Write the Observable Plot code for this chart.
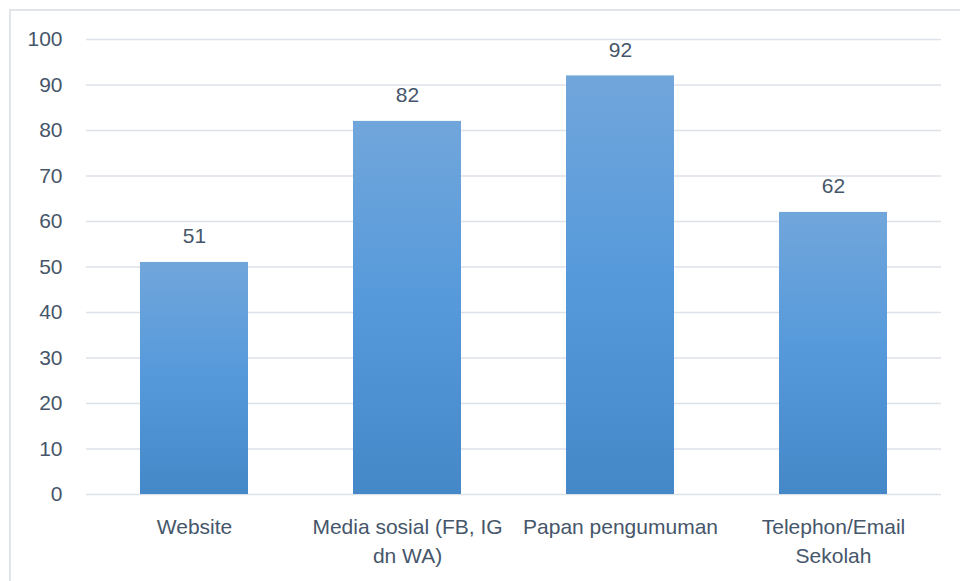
<!DOCTYPE html>
<html>
<head>
<meta charset="utf-8">
<script src="https://cdn.jsdelivr.net/npm/d3@7"></script>
<script src="https://cdn.jsdelivr.net/npm/@observablehq/plot@0.6"></script>
<style>
  body { margin: 0; background: #fff; }
  #wrap { position: relative; width: 960px; height: 581px; overflow: hidden; }
  #border { position: absolute; left: 9px; top: 9px; width: 1000px; height: 700px;
            border-top: 2px solid #e1e4e9; border-left: 2px solid #e1e4e9; box-sizing: border-box; }
  #chart { position: absolute; left: 0; top: 0; }
</style>
</head>
<body>
<div id="wrap"><div id="border"></div><div id="chart"></div></div>
<script>
const categories = ["Website", "Media sosial (FB, IG\ndn WA)", "Papan pengumuman", "Telephon/Email\nSekolah"];
const values = [51, 82, 92, 62];
const yTicks = [0, 10, 20, 30, 40, 50, 60, 70, 80, 90, 100];

const data = categories.map((c, i) => ({category: c, value: values[i]}));
const textColor = "#46566a";
const gridColor = "#dde1e8";

const chart = Plot.plot({
  width: 960,
  height: 581,
  marginLeft: 86,
  marginRight: 19,
  marginTop: 39,
  marginBottom: 87,
  style: {fontFamily: "'Liberation Sans', Arial, sans-serif", fontSize: "21px", color: textColor, background: "transparent"},
  x: {domain: categories, paddingInner: 0.495, paddingOuter: 0.2475, label: null},
  y: {domain: [0, 100], label: null},
  marks: [
    Plot.ruleY(yTicks, {stroke: gridColor, strokeWidth: 1.5}),
    Plot.barY(data, {x: "category", y: "value", fill: "url(#barGrad)"}),
    Plot.text(data, {x: "category", y: "value", text: d => String(d.value), dy: -26, fill: textColor, fontSize: 21}),
    Plot.axisY(yTicks, {tickSize: 0, tickPadding: 24, fill: textColor, fontSize: 21, label: null}),
    Plot.axisX({tickSize: 0, tickPadding: 18, fill: textColor, fontSize: 21, lineHeight: 1.42, label: null})
  ]
});

const svg = d3.select(chart);
const defs = svg.insert("defs", ":first-child");
const grad = defs.append("linearGradient").attr("id", "barGrad")
  .attr("x1", 0).attr("y1", 0).attr("x2", 0).attr("y2", 1);
grad.append("stop").attr("offset", "0%").attr("stop-color", "#71a6db");
grad.append("stop").attr("offset", "50%").attr("stop-color", "#5599db");
grad.append("stop").attr("offset", "100%").attr("stop-color", "#4488c8");

document.getElementById("chart").appendChild(chart);
</script>
</body>
</html>
